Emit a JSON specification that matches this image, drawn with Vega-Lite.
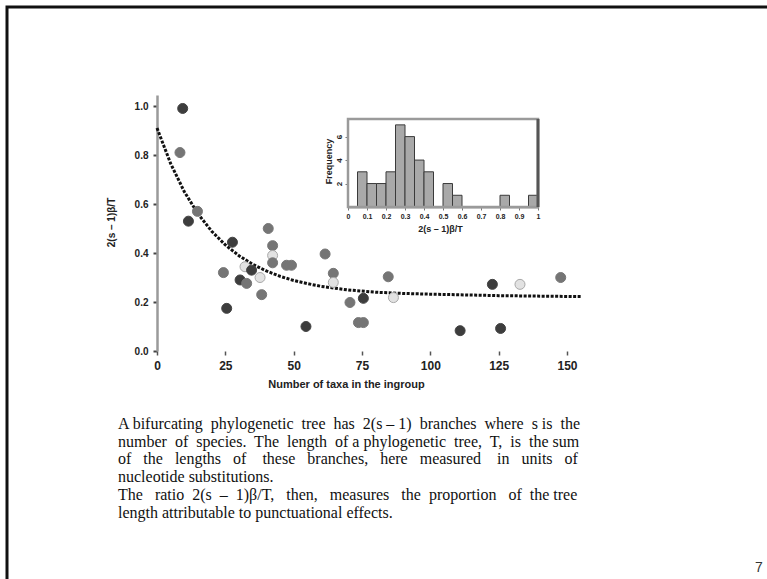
{
  "$schema": "https://vega.github.io/schema/vega-lite/v6.json",
  "width": 762,
  "height": 574,
  "autosize": {"type": "none"},
  "padding": {"left": 7, "top": 7, "right": -2, "bottom": -2},
  "background": "white",
  "config": {
    "view": {"stroke": "#111", "strokeWidth": 3},
    "font": "Liberation Sans",
    "axis": {"grid": false, "labelFlush": false, "labelOverlap": false, "labelBound": false}
  },
  "datasets": {
    "points": [
      {"taxa": 9.4, "ratio": 0.99, "group": "d"},
      {"taxa": 8.4, "ratio": 0.81, "group": "m"},
      {"taxa": 14.8, "ratio": 0.57, "group": "m"},
      {"taxa": 11.5, "ratio": 0.53, "group": "d"},
      {"taxa": 40.7, "ratio": 0.50, "group": "m"},
      {"taxa": 27.6, "ratio": 0.444, "group": "d"},
      {"taxa": 61.5, "ratio": 0.396, "group": "m"},
      {"taxa": 42.3, "ratio": 0.43, "group": "m"},
      {"taxa": 42.3, "ratio": 0.39, "group": "l"},
      {"taxa": 42.3, "ratio": 0.36, "group": "m"},
      {"taxa": 47.4, "ratio": 0.35, "group": "m"},
      {"taxa": 49.2, "ratio": 0.35, "group": "m"},
      {"taxa": 24.3, "ratio": 0.32, "group": "m"},
      {"taxa": 32.2, "ratio": 0.344, "group": "l"},
      {"taxa": 34.6, "ratio": 0.33, "group": "d"},
      {"taxa": 30.4, "ratio": 0.29, "group": "d"},
      {"taxa": 32.8, "ratio": 0.276, "group": "m"},
      {"taxa": 37.7, "ratio": 0.30, "group": "l"},
      {"taxa": 38.3, "ratio": 0.23, "group": "m"},
      {"taxa": 25.5, "ratio": 0.174, "group": "d"},
      {"taxa": 54.5, "ratio": 0.10, "group": "d"},
      {"taxa": 64.5, "ratio": 0.317, "group": "m"},
      {"taxa": 64.5, "ratio": 0.28, "group": "l"},
      {"taxa": 70.6, "ratio": 0.198, "group": "m"},
      {"taxa": 75.5, "ratio": 0.215, "group": "d"},
      {"taxa": 84.6, "ratio": 0.303, "group": "m"},
      {"taxa": 86.5, "ratio": 0.218, "group": "l"},
      {"taxa": 73.7, "ratio": 0.116, "group": "m"},
      {"taxa": 75.5, "ratio": 0.116, "group": "m"},
      {"taxa": 110.9, "ratio": 0.083, "group": "d"},
      {"taxa": 125.7, "ratio": 0.092, "group": "d"},
      {"taxa": 122.7, "ratio": 0.272, "group": "d"},
      {"taxa": 132.8, "ratio": 0.272, "group": "l"},
      {"taxa": 147.7, "ratio": 0.30, "group": "m"}
    ],
    "curve": [
      {"taxa": 0, "ratio": 0.910},
      {"taxa": 5, "ratio": 0.765},
      {"taxa": 10, "ratio": 0.650},
      {"taxa": 15, "ratio": 0.560},
      {"taxa": 20, "ratio": 0.489},
      {"taxa": 25, "ratio": 0.433},
      {"taxa": 30, "ratio": 0.389},
      {"taxa": 35, "ratio": 0.354},
      {"taxa": 40, "ratio": 0.327},
      {"taxa": 45, "ratio": 0.305},
      {"taxa": 50, "ratio": 0.288},
      {"taxa": 55, "ratio": 0.275},
      {"taxa": 60, "ratio": 0.264},
      {"taxa": 70, "ratio": 0.249},
      {"taxa": 80, "ratio": 0.240},
      {"taxa": 90, "ratio": 0.235},
      {"taxa": 100, "ratio": 0.232},
      {"taxa": 125, "ratio": 0.226},
      {"taxa": 155, "ratio": 0.222}
    ],
    "hist": [
      {"bin_start": 0.05, "bin_end": 0.10, "count": 3},
      {"bin_start": 0.10, "bin_end": 0.15, "count": 2},
      {"bin_start": 0.15, "bin_end": 0.20, "count": 2},
      {"bin_start": 0.20, "bin_end": 0.25, "count": 3},
      {"bin_start": 0.25, "bin_end": 0.30, "count": 7},
      {"bin_start": 0.30, "bin_end": 0.35, "count": 6},
      {"bin_start": 0.35, "bin_end": 0.40, "count": 4},
      {"bin_start": 0.40, "bin_end": 0.45, "count": 3},
      {"bin_start": 0.50, "bin_end": 0.55, "count": 2},
      {"bin_start": 0.55, "bin_end": 0.60, "count": 1},
      {"bin_start": 0.80, "bin_end": 0.85, "count": 1},
      {"bin_start": 0.95, "bin_end": 1.00, "count": 1}
    ],
    "text": [
      {"paragraph": [
        "A bifurcating\u00a0 phylogenetic\u00a0 tree\u00a0 has\u00a0 2(s – 1)\u00a0 branches\u00a0 where\u00a0 s is\u00a0 the",
        "number\u00a0 of\u00a0 species.\u00a0 The\u00a0 length\u00a0 of a phylogenetic\u00a0 tree,\u00a0 T,\u00a0 is\u00a0 the sum",
        "of\u00a0\u00a0\u00a0the\u00a0\u00a0\u00a0lengths\u00a0\u00a0\u00a0of\u00a0\u00a0\u00a0\u00a0these\u00a0\u00a0\u00a0branches,\u00a0\u00a0\u00a0here\u00a0\u00a0\u00a0measured\u00a0\u00a0\u00a0\u00a0in\u00a0\u00a0\u00a0units\u00a0\u00a0\u00a0of",
        "nucleotide substitutions.",
        "The\u00a0\u00a0\u00a0ratio\u00a0\u00a02(s\u00a0\u00a0–\u00a0\u00a01)β/T,\u00a0\u00a0\u00a0then,\u00a0\u00a0\u00a0measures\u00a0\u00a0\u00a0the\u00a0\u00a0proportion\u00a0\u00a0\u00a0of\u00a0\u00a0the\u00a0tree",
        "length attributable to punctuational effects."
      ]}
    ]
  },
  "layer": [
    {
      "layer": [
        {
          "data": {"name": "curve"},
          "mark": {"type": "line", "color": "#111", "strokeWidth": 3, "strokeDash": [3, 1.5]},
          "encoding": {
            "x": {"field": "taxa", "type": "quantitative",
              "scale": {"domain": [0, 150], "range": [150, 560], "nice": false, "zero": false},
              "axis": {"orient": "bottom", "offset": -230, "values": [0, 25, 50, 75, 100, 125, 150], "domain": false,
                "tickSize": 4, "tickColor": "#555", "tickWidth": 1.5,
                "labelFontSize": 12, "labelFontWeight": "bold", "labelColor": "#222", "labelPadding": 5,
                "title": "Number of taxa in the ingroup", "titleFontSize": 11, "titleFontWeight": "bold", "titleColor": "#222",
                "titleX": 339, "titleY": 33, "titleAlign": "center", "titleBaseline": "middle"}},
            "y": {"field": "ratio", "type": "quantitative",
              "scale": {"domain": [0, 1.045], "range": [344, 88], "nice": false, "zero": false},
              "axis": {"orient": "left", "offset": -150, "values": [0, 0.2, 0.4, 0.6, 0.8, 1.0], "format": ".1f",
                "domain": true, "domainColor": "#9a9a9a", "domainWidth": 2.5,
                "tickSize": 4, "tickColor": "#444", "tickWidth": 2,
                "labelFontSize": 10, "labelFontWeight": "bold", "labelColor": "#222", "labelPadding": 5,
                "title": "2(s – 1)β/T", "titleFontSize": 10, "titleFontWeight": "bold", "titleColor": "#222",
                "titleX": -46, "titleY": 215, "titleAngle": 270, "titleAlign": "center", "titleBaseline": "middle"}}
          }
        },
        {
          "data": {"name": "points"},
          "mark": {"type": "point", "shape": "circle", "filled": true, "size": 100, "strokeWidth": 1, "opacity": 1},
          "encoding": {
            "x": {"field": "taxa", "type": "quantitative"},
            "y": {"field": "ratio", "type": "quantitative"},
            "fill": {"field": "group", "type": "nominal", "scale": {"domain": ["d", "m", "l"], "range": ["#3d3d3d", "#757575", "#e2e2e2"]}, "legend": null},
            "stroke": {"field": "group", "type": "nominal", "scale": {"domain": ["d", "m", "l"], "range": ["#444444", "#777777", "#a8a8a8"]}, "legend": null}
          }
        }
      ]
    },
    {
      "layer": [
        {
          "data": {"name": "hist"},
          "mark": {"type": "rect", "fill": "#a9a9a9", "stroke": "#3a3a3a", "strokeWidth": 1},
          "encoding": {
            "x": {"field": "bin_start", "type": "quantitative",
              "scale": {"domain": [0, 1], "range": [341, 531], "nice": false, "zero": false},
              "axis": {"orient": "bottom", "offset": -374, "values": [0, 0.1, 0.2, 0.3, 0.4, 0.5, 0.6, 0.7, 0.8, 0.9, 1], "format": "~g",
                "domain": true, "domainColor": "#9a9a9a", "domainWidth": 2,
                "tickSize": 3, "tickColor": "#777",
                "labelFontSize": 7, "labelFontWeight": "bold", "labelColor": "#222", "labelPadding": 2,
                "title": "2(s – 1)β/T", "titleFontSize": 9, "titleFontWeight": "bold", "titleColor": "#222",
                "titleX": 433, "titleY": 21, "titleAlign": "center", "titleBaseline": "middle"}},
            "x2": {"field": "bin_end"},
            "y": {"field": "count", "type": "quantitative",
              "scale": {"domain": [0, 7.5], "range": [200, 112], "nice": false, "zero": false},
              "axis": {"orient": "left", "offset": -341, "values": [2, 4, 6], "format": "d", "domain": false,
                "tickSize": 3, "tickColor": "#777",
                "labelFontSize": 8, "labelFontWeight": "bold", "labelColor": "#222", "labelPadding": 2, "labelAngle": -90,
                "title": "Frequency", "titleFontSize": 9, "titleFontWeight": "bold", "titleColor": "#222",
                "titleX": -20, "titleY": 154, "titleAngle": 270, "titleAlign": "center", "titleBaseline": "middle"}}
          }
        },
        {
          "data": {"values": [{}]},
          "mark": {"type": "rect", "filled": false, "color": "#9a9a9a", "strokeWidth": 2.5},
          "encoding": {
            "x": {"datum": 0, "type": "quantitative"},
            "x2": {"datum": 1},
            "y": {"datum": 0, "type": "quantitative"},
            "y2": {"datum": 7.5}
          }
        },
        {
          "data": {"values": [{}]},
          "mark": {"type": "rule", "color": "#555", "strokeWidth": 3},
          "encoding": {
            "x": {"datum": 1, "type": "quantitative"},
            "y": {"datum": 0, "type": "quantitative"},
            "y2": {"datum": 7.5}
          }
        }
      ]
    },
    {
      "data": {"name": "text"},
      "mark": {"type": "text", "align": "left", "baseline": "alphabetic", "font": "Liberation Serif", "fontSize": 16, "lineHeight": 17.7, "color": "#111"},
      "encoding": {
        "text": {"field": "paragraph"},
        "x": {"value": 111},
        "y": {"value": 422}
      }
    },
    {
      "data": {"values": [{"page": "7"}]},
      "mark": {"type": "text", "align": "center", "baseline": "alphabetic", "font": "Liberation Sans", "fontSize": 14, "color": "#333"},
      "encoding": {
        "text": {"field": "page"},
        "x": {"value": 752},
        "y": {"value": 565}
      }
    }
  ],
  "resolve": {
    "scale": {"x": "independent", "y": "independent", "fill": "independent", "stroke": "independent"},
    "axis": {"x": "independent", "y": "independent"}
  }
}
